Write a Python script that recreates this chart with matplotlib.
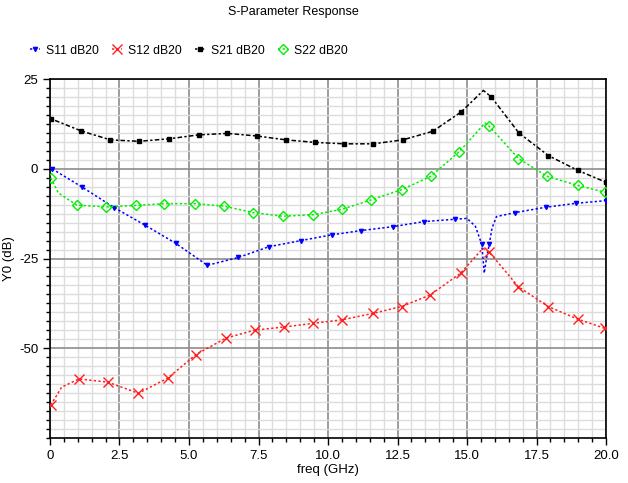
import matplotlib
matplotlib.use('agg')
import matplotlib.pyplot as plt
from matplotlib.ticker import MultipleLocator, FixedLocator

plt.rcParams['font.family'] = ['Liberation Sans', 'DejaVu Sans']
plt.rcParams['axes.unicode_minus'] = False

# S11 (blue)
f_s11 = [0.08, 1.16, 2.31, 3.42, 4.52, 5.66, 6.78, 7.88, 9.03, 10.13, 11.2, 12.35,
         13.45, 14.57, 15.0, 15.3, 15.53, 15.62, 15.7, 15.8, 15.9, 16.06, 16.73,
         17.83, 18.92, 20.0]
s11 = [0.0, -5.1, -10.8, -15.7, -20.75, -26.9, -24.7, -21.7, -20.0, -18.4, -17.2, -16.1,
       -14.7, -14.05, -13.8, -16.0, -21.0, -29.1, -25.0, -21.0, -16.5, -13.3, -12.2,
       -10.7, -9.6, -8.85]
m_s11 = [0, 1, 2, 3, 4, 5, 6, 7, 8, 9, 10, 11, 12, 13, 16, 19, 22, 23, 24, 25]

# S12 (red)
f_s12 = [0.03, 0.42, 1.04, 2.08, 3.18, 4.23, 5.25, 6.33, 7.36, 8.42, 9.47, 10.51,
         11.63, 12.65, 13.67, 14.77, 15.57, 15.8, 16.85, 17.92, 18.98, 19.96]
s12 = [-65.9, -60.9, -58.6, -59.5, -62.6, -58.4, -51.8, -47.2, -45.0, -44.1, -43.1, -42.1,
       -40.3, -38.4, -35.2, -29.1, -22.2, -23.2, -32.9, -38.4, -41.9, -44.5]
m_s12 = [0, 2, 3, 4, 5, 6, 7, 8, 9, 10, 11, 12, 13, 14, 15, 17, 18, 19, 20, 21]

# S21 (black)
f_s21 = [0.03, 1.12, 2.17, 3.2, 4.28, 5.35, 6.38, 7.43, 8.49, 9.53, 10.59, 11.63,
         12.69, 13.77, 14.79, 15.59, 15.87, 16.87, 17.93, 18.98, 19.99]
s21 = [14.0, 10.6, 8.1, 7.7, 8.4, 9.5, 9.9, 9.2, 8.1, 7.4, 7.0, 7.0,
       8.1, 10.5, 15.9, 21.9, 20.1, 10.0, 3.7, -0.4, -3.7]
m_s21 = [0, 1, 2, 3, 4, 5, 6, 7, 8, 9, 10, 11, 12, 13, 14, 16, 17, 18, 19, 20]

# S22 (green)
f_s22 = [0.03, 0.3, 0.96, 2.01, 3.08, 4.11, 5.23, 6.26, 7.31, 8.37, 9.45, 10.49,
         11.53, 12.65, 13.69, 14.72, 15.65, 15.8, 16.85, 17.89, 18.98, 19.96]
s22 = [-2.5, -6.7, -10.1, -10.6, -10.2, -9.7, -9.7, -10.4, -12.2, -13.2, -12.8, -11.3,
       -8.7, -5.8, -2.1, 4.8, 12.8, 11.9, 2.9, -2.1, -4.6, -6.5]
m_s22 = [0, 2, 3, 4, 5, 6, 7, 8, 9, 10, 11, 12, 13, 14, 15, 17, 18, 19, 20, 21]

xticks = [0, 2.5, 5.0, 7.5, 10.0, 12.5, 15.0, 17.5, 20.0]
xtick_labels = ['0', '2.5', '5.0', '7.5', '10.0', '12.5', '15.0', '17.5', '20.0']
yticks = [25, 0, -25, -50]

fig = plt.figure(figsize=(6.28, 4.83), dpi=100)
ax = fig.add_axes([0.0796, 0.0938, 0.8854, 0.742])

ls = (0, (1.5, 1.5))
ax.plot(f_s11, s11, color='#0000ff', ls=ls, lw=1.1, marker='v', ms=3,
        markevery=m_s11, label='S11 dB20', zorder=3)
ax.plot(f_s12, s12, color='#ff2020', ls=ls, lw=1.1, marker='x', ms=6.5, mew=1,
        markevery=m_s12, label='S12 dB20', zorder=3)
ax.plot(f_s21, s21, color='black', ls=(0, (1.5, 1.5, 3, 1.5)), lw=1.1, marker='s', ms=2.5,
        markevery=m_s21, label='S21 dB20', zorder=3)
ax.plot(f_s22, s22, color='#00ee00', ls=ls, lw=1.1, marker='D', ms=5.5, mfc='none', mew=1,
        markevery=m_s22, label='S22 dB20', zorder=3)

ax.set_xlim(0, 20)
ax.set_ylim(-75, 25)
ax.xaxis.set_major_locator(FixedLocator(xticks))
ax.set_xticklabels(xtick_labels)
ax.xaxis.set_minor_locator(MultipleLocator(0.5))
ax.yaxis.set_major_locator(FixedLocator(yticks))
ax.yaxis.set_minor_locator(MultipleLocator(2.5))

ax.grid(which='minor', color='#dcdcdc', lw=1.0)
ax.grid(which='major', color='#8c8c8c', lw=1.2)
ax.set_axisbelow(True)
ax.tick_params(which='major', length=5, width=1, labelsize=9.5, direction='out')
ax.tick_params(which='minor', length=3, width=1, direction='out')
for s in ax.spines.values():
    s.set_linewidth(1.2)

ax.set_xlabel('freq (GHz)', fontsize=9.5, labelpad=2)
ax.set_ylabel('Y0 (dB)', fontsize=9.5)
ax.yaxis.set_label_coords(-0.063, 0.5)

fig.text(0.467, 0.975, 'S-Parameter Response', ha='center', va='center', fontsize=9)
fig.legend(loc='center left', bbox_to_anchor=(0.03, 0.895), ncol=4, frameon=False,
           fontsize=8.8, handlelength=0.8, handletextpad=0.5, columnspacing=1.1,
           markerscale=1.0)

plt.savefig('out.png', dpi=100)
